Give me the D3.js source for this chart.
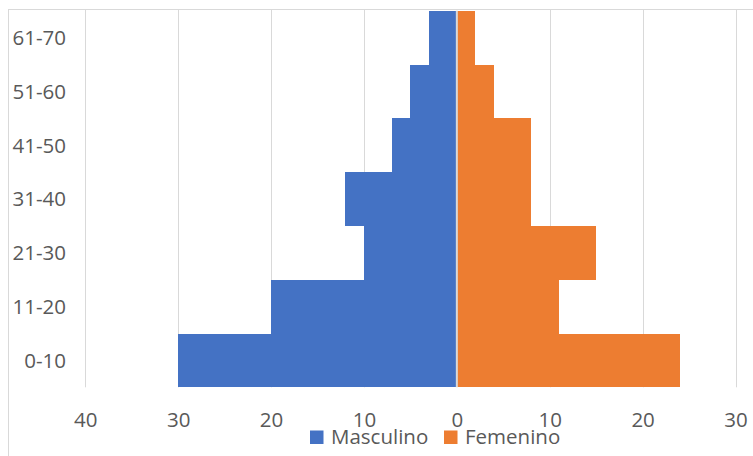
<!DOCTYPE html>
<html>
<head>
<meta charset="utf-8">
<script src="https://cdn.jsdelivr.net/npm/d3@7"></script>
<style>
  html, body { margin: 0; padding: 0; background: #fff; }
  svg { display: block; }
  text { font-family: "Open Sans", "Lato", sans-serif; fill: #595959; }
</style>
</head>
<body>
<svg id="chart" width="753" height="456"></svg>
<script>
// Age groups, bottom to top
const ageGroups = ["0-10", "11-20", "21-30", "31-40", "41-50", "51-60", "61-70"];
// Counts per age group
const masculino = [30, 20, 10, 12, 7, 5, 3];
const femenino  = [24, 11, 15, 8, 8, 4, 2];
// Horizontal axis ticks (left side shown as positive numbers)
const xTicks = [-40, -30, -20, -10, 0, 10, 20, 30];
const seriesNames = ["Masculino", "Femenino"];
const seriesColors = ["#4472C4", "#ED7D31"];

const svg = d3.select("#chart");
const W = 753, H = 456;
const fontSize = 20.5;

// Chart frame
svg.append("rect")
  .attr("x", 8.5).attr("y", 9.5)
  .attr("width", W + 20).attr("height", H + 20)
  .attr("fill", "#fff").attr("stroke", "#d9d9d9").attr("stroke-width", 1);

const x = d3.scaleLinear().domain([-40, 30]).range([85.3, 735.5]);
const y = d3.scaleBand().domain(ageGroups).range([387.3, 10.7]).padding(0);

// Vertical gridlines
svg.append("g")
  .selectAll("line")
  .data(xTicks.filter(t => t !== 0))
  .join("line")
  .attr("x1", d => Math.round(x(d)) + 0.5)
  .attr("x2", d => Math.round(x(d)) + 0.5)
  .attr("y1", 10)
  .attr("y2", y.range()[0])
  .attr("stroke", "#d9d9d9")
  .attr("stroke-width", 1);

const rows = ageGroups.map((g, i) => ({ g, m: masculino[i], f: femenino[i] }));

// Male bars extend to the left of zero
svg.append("g")
  .attr("shape-rendering", "crispEdges")
  .selectAll("rect")
  .data(rows)
  .join("rect")
  .attr("x", d => x(-d.m))
  .attr("y", d => y(d.g))
  .attr("width", d => x(0) - x(-d.m))
  .attr("height", y.bandwidth())
  .attr("fill", seriesColors[0]);

// Female bars extend to the right of zero
svg.append("g")
  .attr("shape-rendering", "crispEdges")
  .selectAll("rect")
  .data(rows)
  .join("rect")
  .attr("x", x(0))
  .attr("y", d => y(d.g))
  .attr("width", d => x(d.f) - x(0))
  .attr("height", y.bandwidth())
  .attr("fill", seriesColors[1]);

// Category axis line at zero
svg.append("line")
  .attr("x1", x(0)).attr("x2", x(0))
  .attr("y1", y.range()[1]).attr("y2", y.range()[0])
  .attr("stroke", "#d9d9d9").attr("stroke-width", 2);

// Age group labels
const yAxis = d3.axisLeft(y).tickSize(0).tickPadding(0);
const gy = svg.append("g").attr("transform", "translate(66,0)").call(yAxis);
gy.select(".domain").remove();
gy.selectAll("text")
  .attr("font-size", fontSize)
  .attr("font-family", "Open Sans")
  .attr("fill", "#595959")
  .attr("dy", "0.36em");

// Value axis labels
const xAxis = d3.axisBottom(x).tickValues(xTicks).tickSize(0).tickPadding(0)
  .tickFormat(d => Math.abs(d));
const gx = svg.append("g").attr("transform", "translate(0,427)").call(xAxis);
gx.select(".domain").remove();
gx.selectAll("text")
  .attr("font-size", fontSize)
  .attr("font-family", "Open Sans")
  .attr("fill", "#595959")
  .attr("y", 0).attr("dy", 0);

// Legend
const legendItems = [
  { name: seriesNames[0], color: seriesColors[0], sx: 310, tx: 331 },
  { name: seriesNames[1], color: seriesColors[1], sx: 444, tx: 465 }
];
const lg = svg.append("g");
legendItems.forEach(it => {
  lg.append("rect")
    .attr("x", it.sx).attr("y", 430.5)
    .attr("width", 13.5).attr("height", 13.5)
    .attr("fill", it.color);
  lg.append("text")
    .attr("x", it.tx).attr("y", 443.5)
    .attr("font-size", fontSize)
    .text(it.name);
});
</script>
</body>
</html>
